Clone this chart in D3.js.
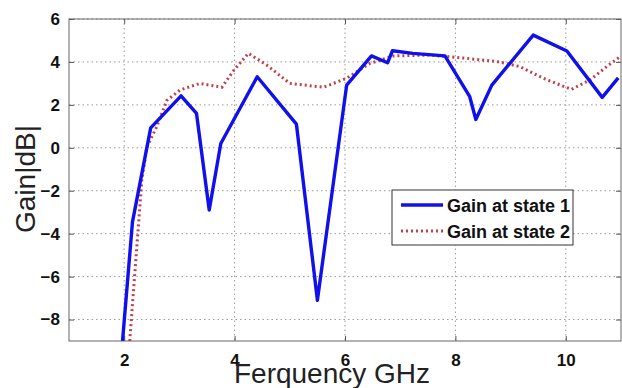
<!DOCTYPE html>
<html>
<head>
<meta charset="utf-8">
<script src="https://cdnjs.cloudflare.com/ajax/libs/d3/7.8.5/d3.min.js"></script>
<style>
  body { margin: 0; background: #fff; }
  svg { display: block; font-family: "Liberation Sans", Arial, sans-serif; }
</style>
</head>
<body>
<svg id="chart" width="622" height="388"></svg>
<script>
// Gain at state 1 (solid blue)
let freq1 = [1.97, 2.15, 2.48, 3.03, 3.31, 3.54, 3.75, 4.41, 5.12, 5.50, 6.03, 6.48, 6.77, 6.86, 7.23, 7.81, 8.26, 8.37, 8.66, 9.41, 10.02, 10.66, 10.95];
let gain1 = [-9.0, -3.45, 0.93, 2.42, 1.6, -2.9, 0.2, 3.31, 1.1, -7.1, 2.92, 4.28, 3.96, 4.52, 4.4, 4.28, 2.38, 1.32, 2.92, 5.25, 4.51, 2.35, 3.26];

// Gain at state 2 (dotted red)
let freq2 = [2.10, 2.32, 2.41, 2.59, 2.77, 3.01, 3.37, 3.77, 3.98, 4.25, 4.58, 5.00, 5.61, 6.03, 6.45, 6.88, 7.54, 8.20, 8.80, 9.17, 9.59, 10.10, 10.44, 10.74, 11.0];
let gain2 = [-9.0, -1.5, 0.04, 0.98, 2.2, 2.69, 3.0, 2.82, 3.59, 4.4, 3.86, 3.0, 2.82, 3.24, 3.93, 4.28, 4.32, 4.17, 4.0, 3.78, 3.24, 2.72, 3.16, 3.78, 4.28];

let xTicks = [2, 4, 6, 8, 10];
let yTicks = [-8, -6, -4, -2, 0, 2, 4, 6];
let seriesNames = ["Gain at state 1", "Gain at state 2"];

let svg = d3.select("#chart");
let margin = { top: 19, right: 1, bottom: 47, left: 69 };
let width = +svg.attr("width") - margin.left - margin.right;
let height = +svg.attr("height") - margin.top - margin.bottom;

let x = d3.scaleLinear().domain([1, 11]).range([0, width]);
let y = d3.scaleLinear().domain([-9, 6]).range([height, 0]);

let g = svg.append("g")
  .attr("transform", "translate(" + margin.left + "," + margin.top + ")");

svg.append("defs").append("clipPath").attr("id", "clip")
  .append("rect").attr("width", width).attr("height", height);

// grid
g.append("g").selectAll("line").data(xTicks).enter().append("line")
  .attr("x1", d => x(d)).attr("x2", d => x(d))
  .attr("y1", 0).attr("y2", height)
  .attr("stroke", "#999").attr("stroke-width", 1).attr("stroke-dasharray", "1.5,3");
g.append("g").selectAll("line").data(yTicks).enter().append("line")
  .attr("x1", 0).attr("x2", width)
  .attr("y1", d => y(d)).attr("y2", d => y(d))
  .attr("stroke", "#999").attr("stroke-width", 1).attr("stroke-dasharray", "1.5,3");

// axes, ticks inward on all four sides
let xAxis = g.append("g").attr("transform", "translate(0," + height + ")")
  .call(d3.axisBottom(x).tickValues(xTicks).tickSizeInner(-5).tickSizeOuter(0).tickPadding(13));
let yAxis = g.append("g")
  .call(d3.axisLeft(y).tickValues(yTicks).tickSizeInner(-5).tickSizeOuter(0).tickPadding(9));
g.append("g")
  .call(d3.axisTop(x).tickValues(xTicks).tickSizeInner(-5).tickSizeOuter(0).tickFormat(""));
g.append("g").attr("transform", "translate(" + width + ",0)")
  .call(d3.axisRight(y).tickValues(yTicks).tickSizeInner(-5).tickSizeOuter(0).tickFormat(""));

g.selectAll(".domain").remove();
g.selectAll(".tick line").attr("stroke", "#555");
[xAxis, yAxis].forEach(function (a) {
  a.selectAll("text")
    .attr("fill", "#111")
    .style("font-size", "17px")
    .style("font-weight", "bold")
    .style("font-family", "'Liberation Sans', Arial, sans-serif");
});

g.append("rect")
  .attr("width", width).attr("height", height)
  .attr("fill", "none").attr("stroke", "#666").attr("stroke-width", 1);

// lines
let line = d3.line().x(d => x(d[0])).y(d => y(d[1]));
let data1 = freq1.map((f, i) => [f, gain1[i]]);
let data2 = freq2.map((f, i) => [f, gain2[i]]);

let lines = g.append("g").attr("clip-path", "url(#clip)");
lines.append("path").datum(data2)
  .attr("d", line).attr("fill", "none")
  .attr("stroke", "#c0404e").attr("stroke-width", 3).attr("stroke-dasharray", "2,3");
lines.append("path").datum(data1)
  .attr("d", line).attr("fill", "none")
  .attr("stroke", "#1010ee").attr("stroke-width", 3.4).attr("stroke-linejoin", "round");

// axis labels
svg.append("text")
  .attr("x", 332).attr("y", 383)
  .attr("text-anchor", "middle")
  .style("font-size", "28px").attr("fill", "#222")
  .text("Ferquency GHz");
svg.append("text")
  .attr("transform", "translate(35,179) rotate(-90)")
  .attr("text-anchor", "middle")
  .style("font-size", "28px").attr("fill", "#222")
  .text("Gain|dB|");

// legend
let legend = svg.append("g").attr("transform", "translate(392,190)");
legend.append("rect")
  .attr("width", 181).attr("height", 55)
  .attr("fill", "#fff").attr("stroke", "#333").attr("stroke-width", 1);
let items = legend.selectAll(".item").data(seriesNames).enter().append("g")
  .attr("transform", (d, i) => "translate(0," + (15 + i * 26) + ")");
items.append("line")
  .attr("x1", 9).attr("x2", 51).attr("y1", 0).attr("y2", 0)
  .attr("stroke", (d, i) => i === 0 ? "#1010ee" : "#c0404e")
  .attr("stroke-width", (d, i) => i === 0 ? 3.4 : 3)
  .attr("stroke-dasharray", (d, i) => i === 0 ? null : "2,3");
items.append("text")
  .attr("x", 55).attr("y", 7)
  .style("font-size", "18px").style("font-weight", "bold").attr("fill", "#111")
  .text(d => d);
</script>
</body>
</html>
